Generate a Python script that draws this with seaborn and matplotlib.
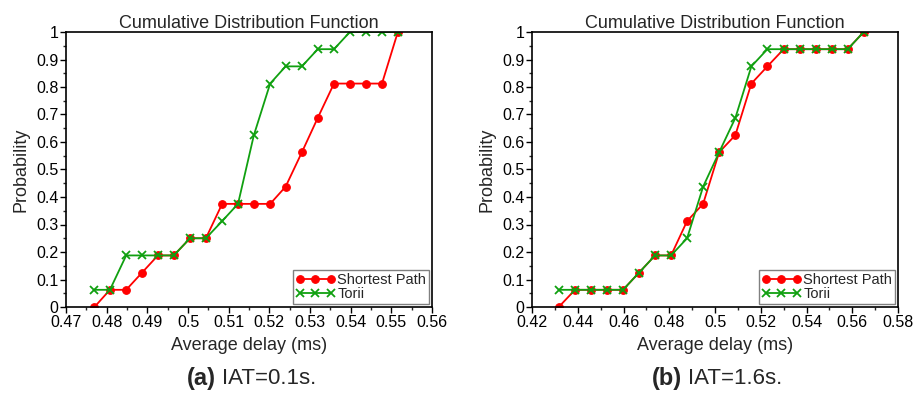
import numpy as np
import matplotlib
matplotlib.use('Agg')
import matplotlib.pyplot as plt
import seaborn as sns
from matplotlib.ticker import MultipleLocator, FormatStrFormatter

# (a) IAT=0.1s
delay_a = [0.4770, 0.4808, 0.4848, 0.4887, 0.4926, 0.4965, 0.5005, 0.5044, 0.5084, 0.5123,
           0.5162, 0.5202, 0.5240, 0.5280, 0.5319, 0.5359, 0.5398, 0.5438, 0.5477, 0.5516]
sp_a = [0, .0625, .0625, .125, .1875, .1875, .25, .25, .375, .375,
        .375, .375, .4375, .5625, .6875, .8125, .8125, .8125, .8125, 1.0]
torii_a = [.0625, .0625, .1875, .1875, .1875, .1875, .25, .25, .3125, .375,
           .625, .8125, .875, .875, .9375, .9375, 1.0, 1.0, 1.0, 1.0]

# (b) IAT=1.6s
delay_b = [0.4317, 0.4388, 0.4457, 0.4527, 0.4598, 0.4668, 0.4738, 0.4808, 0.4878, 0.4948,
           0.5018, 0.5089, 0.5159, 0.5229, 0.5300, 0.5370, 0.5440, 0.5510, 0.5580, 0.5650]
sp_b = [0, .0625, .0625, .0625, .0625, .125, .1875, .1875, .3125, .375,
        .5625, .625, .8125, .875, .9375, .9375, .9375, .9375, .9375, 1.0]
torii_b = [.0625, .0625, .0625, .0625, .0625, .125, .1875, .1875, .25, .4375,
           .5625, .6875, .875, .9375, .9375, .9375, .9375, .9375, .9375, 1.0]

panels = [
    (delay_a, sp_a, torii_a, (0.47, 0.56), 0.01, '(a)', 'IAT=0.1s.'),
    (delay_b, sp_b, torii_b, (0.42, 0.58), 0.02, '(b)', 'IAT=1.6s.'),
]

sns.set_style('ticks')
plt.rcParams['font.family'] = ['Liberation Sans', 'DejaVu Sans']

RED = '#ff0000'
GREEN = '#10a010'

fig = plt.figure(figsize=(9.14, 3.95), dpi=100)
lefts = [66 / 914, 532 / 914]

for left, (x, sp, tor, xlim, step, tag, cap) in zip(lefts, panels):
    ax = fig.add_axes([left, 88 / 395, 366 / 914, 275 / 395])
    sns.lineplot(x=x, y=sp, ax=ax, color=RED, marker='o', markersize=5.5,
                 mec=RED, mew=0.8, linewidth=1.3, label='Shortest Path')
    sns.lineplot(x=x, y=tor, ax=ax, color=GREEN, marker='x', markersize=6,
                 mec=GREEN, mew=1.3, linewidth=1.3, label='Torii')

    ax.set_xlim(*xlim)
    ax.set_ylim(0, 1)
    ax.xaxis.set_major_locator(MultipleLocator(step))
    ax.xaxis.set_minor_locator(MultipleLocator(step / 2))
    ax.yaxis.set_major_locator(MultipleLocator(0.1))
    ax.yaxis.set_minor_locator(MultipleLocator(0.05))
    ax.xaxis.set_major_formatter(FormatStrFormatter('%g'))
    ax.yaxis.set_major_formatter(FormatStrFormatter('%g'))
    ax.tick_params(which='major', direction='out', length=4, width=1, pad=1.5,
                   labelsize=11.5, colors='black')
    ax.tick_params(which='minor', direction='out', length=2.5, width=1)
    for s in ax.spines.values():
        s.set_visible(True)
        s.set_linewidth(1.2)
        s.set_color('black')

    ax.set_title('Cumulative Distribution Function', fontsize=13, pad=3)
    ax.set_xlabel('Average delay (ms)', fontsize=13, labelpad=5)
    ax.set_ylabel('Probability', fontsize=13, labelpad=5)

    leg = ax.legend(loc='lower right', fontsize=10.5, numpoints=3, handlelength=2.7,
                    handletextpad=0.15, labelspacing=0.0, borderpad=0.2,
                    borderaxespad=0.2, fancybox=False, framealpha=1)
    leg.get_frame().set_edgecolor('#808080')
    leg.get_frame().set_linewidth(1.0)

    cx = left + 150 / 914
    fig.text(cx, 17 / 395, tag, fontsize=17, fontweight='bold', ha='right', va='center')
    fig.text(cx + 6 / 914, 17 / 395, cap, fontsize=16, ha='left', va='center')

fig.savefig('out.png', dpi=100)
